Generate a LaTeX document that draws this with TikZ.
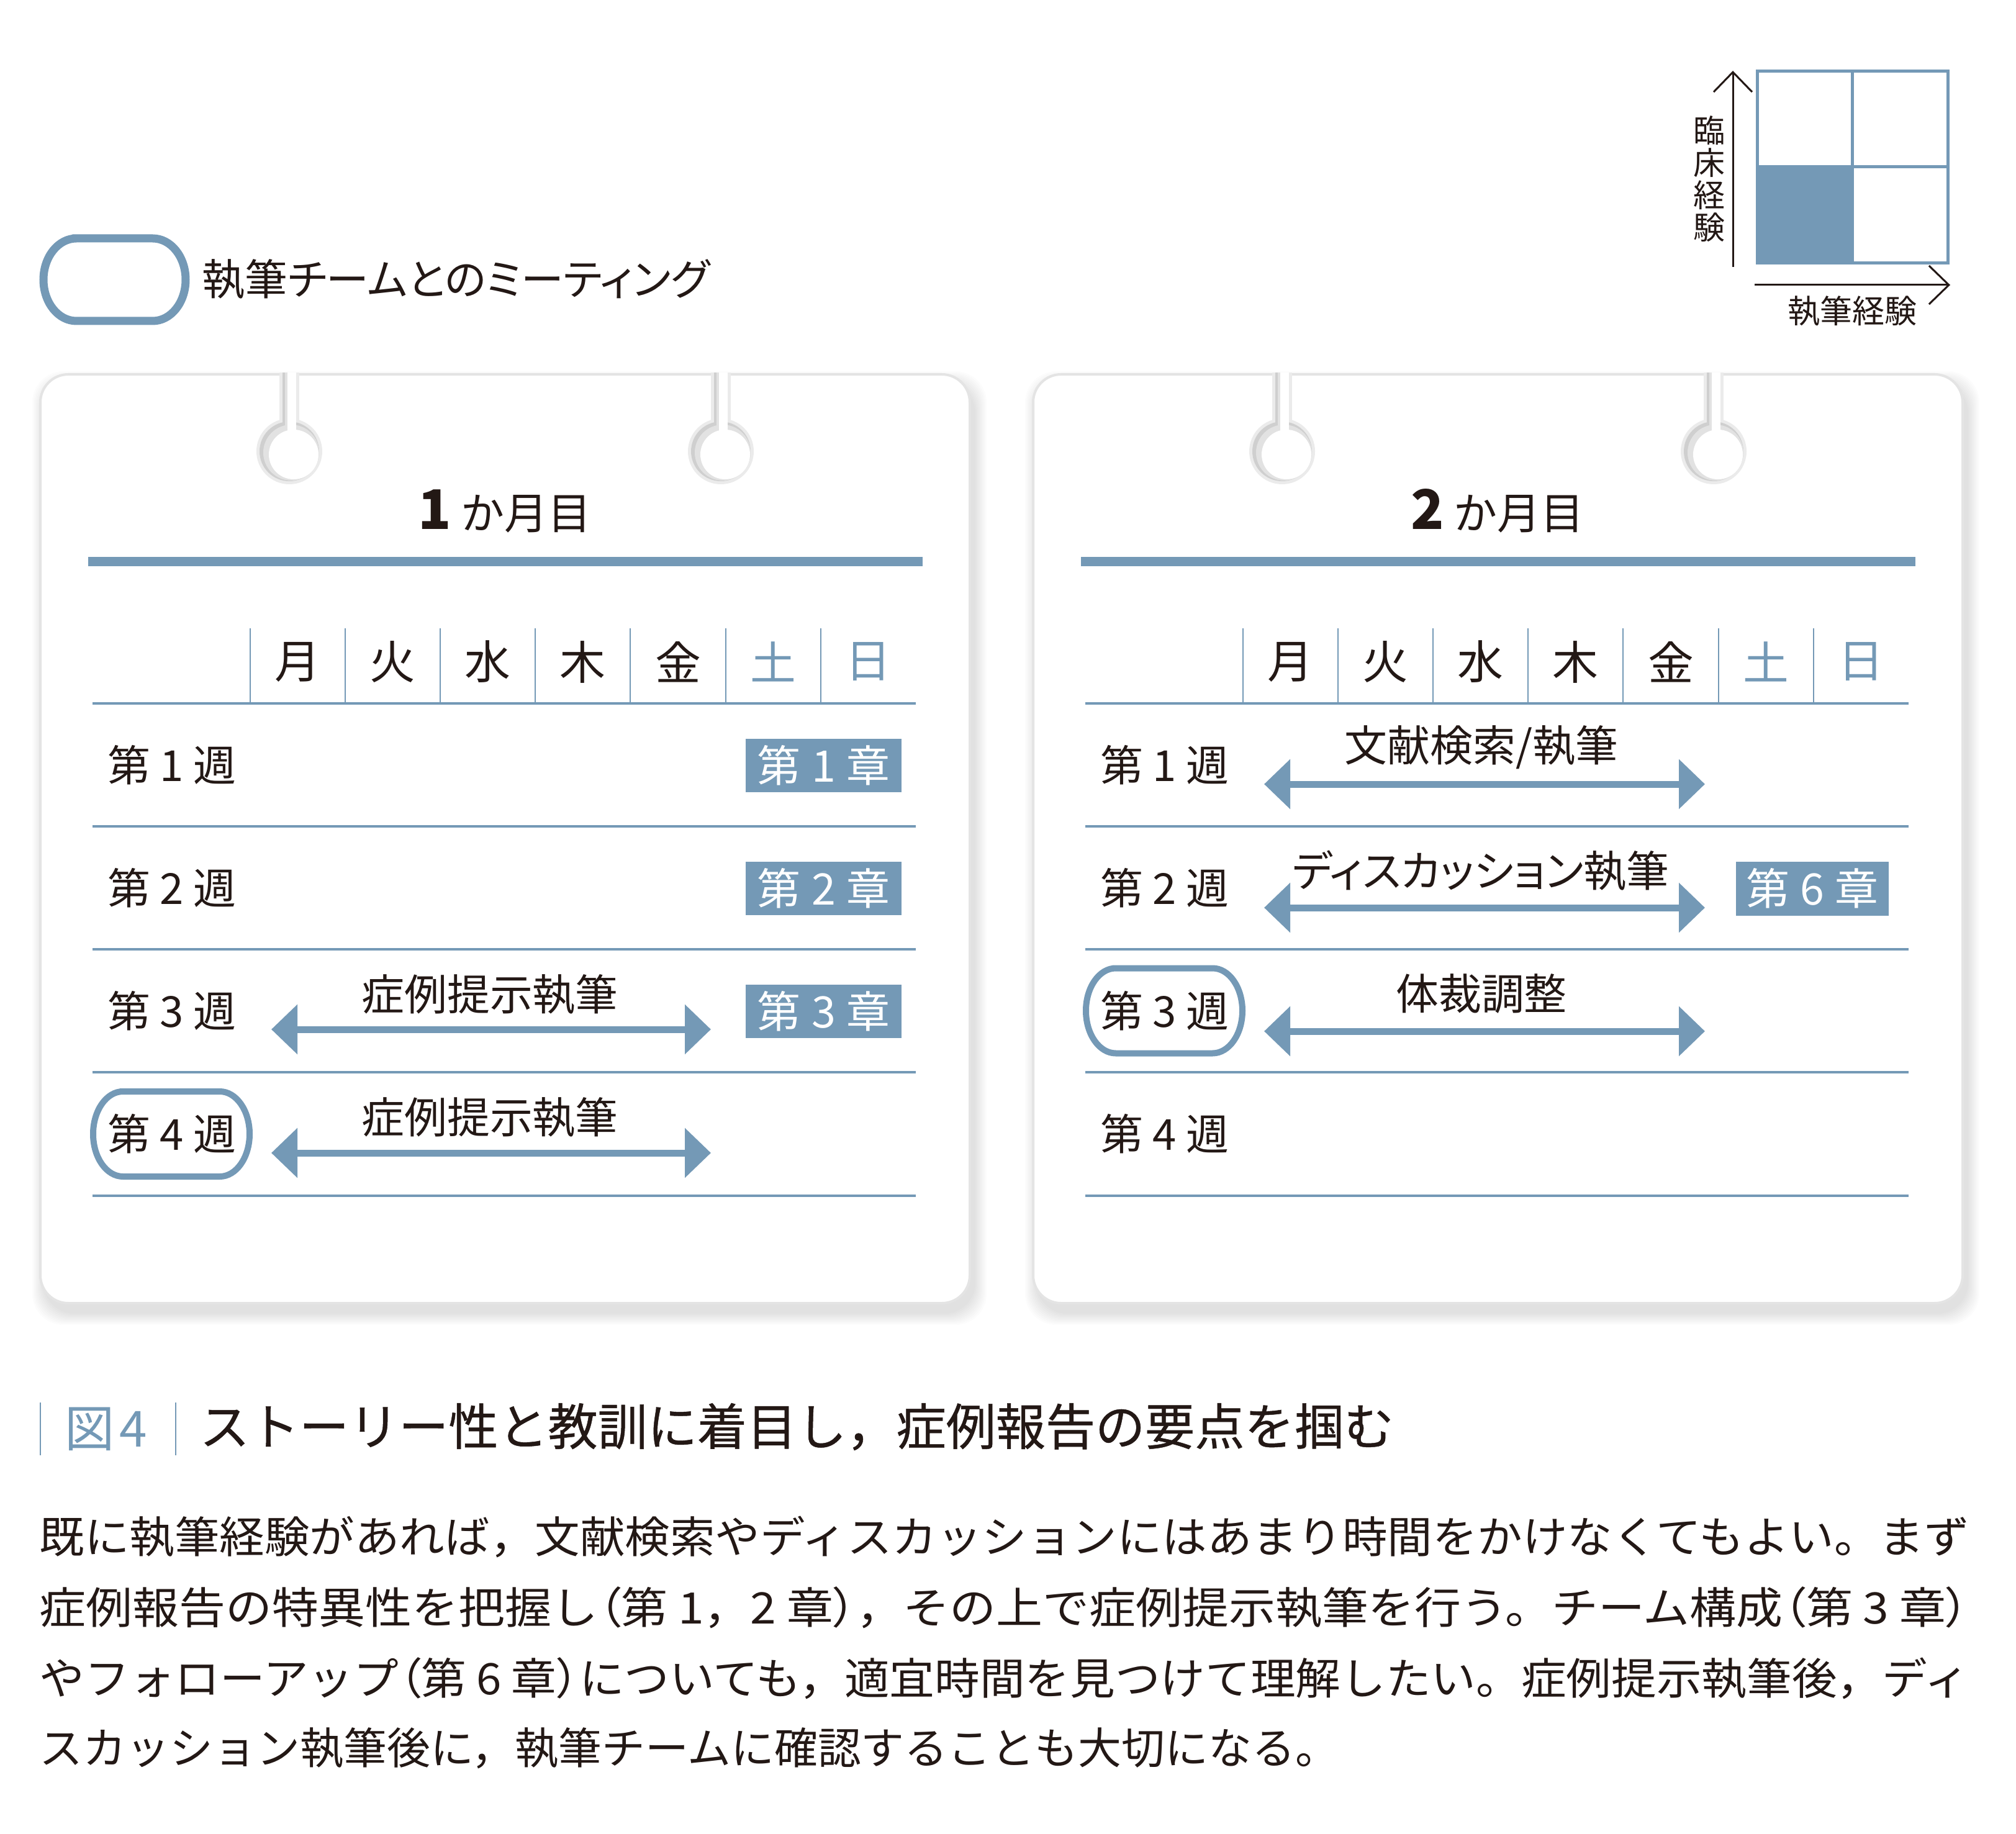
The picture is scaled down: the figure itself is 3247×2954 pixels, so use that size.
\documentclass[tikz,border=0pt]{standalone}
\usepackage{graphicx}
\usepackage{fontspec}
\setmainfont{Noto Sans CJK JP}
\newfontfamily\pfont{Noto Sans CJK JP}[RawFeature=+palt]
\newfontfamily\capfont{Noto Sans CJK JP}[FakeBold=0.6]
\usetikzlibrary{arrows.meta}
\definecolor{blu}{HTML}{7499B6}
\definecolor{ink}{HTML}{231815}
\definecolor{cardedge}{HTML}{E4E4E4}
\definecolor{holeedge}{HTML}{EBEBEB}
\definecolor{holedark}{HTML}{CFCFCF}
\definecolor{holemid}{HTML}{E2E2E2}
\newcommand\po[1]{{\pfont #1}}
% stadium: cx cy halfwidth halfheight xradius style
\newcommand\stadium[6]{%
  \draw[#6] ({#1-#3+#5},{#2-#4}) -- ({#1+#3-#5},{#2-#4})
    arc[start angle=-90,end angle=90,x radius=#5,y radius=#4]
    -- ({#1-#3+#5},{#2+#4})
    arc[start angle=90,end angle=270,x radius=#5,y radius=#4] -- cycle;}
\tikzset{
  txt/.style={inner sep=0pt, text=ink},
  wk/.style={txt, font=\fontsize{19.6pt}{20pt}\selectfont},
  dayl/.style={txt, font=\fontsize{21pt}{22pt}\selectfont},
  arl/.style={txt, font=\fontsize{19.6pt}{20pt}\selectfont},
  chap/.style={fill=blu, text=white, inner sep=0pt, minimum width=25.1mm,
    minimum height=8.6mm, font=\fontsize{19.9pt}{20pt}\selectfont},
  dbl/.style={draw=blu, line width=1.1mm,
    {Triangle[length=4.2mm,width=7.8mm]}-{Triangle[length=4.2mm,width=7.8mm]}},
  sep/.style={draw=blu, line width=0.2mm},
  meet/.style={draw=blu, line width=1.0mm},
  legmeet/.style={draw=blu, line width=1.3mm},
  axis/.style={draw=ink, line width=0.3mm, -{Straight Barb[length=3.2mm,width=6.2mm]}},
  body/.style={txt, anchor=west, font=\fontsize{19.9pt}{20pt}\selectfont},
}
\begin{document}
\begin{tikzpicture}[x=0.1mm,y=-0.1mm]
\useasboundingbox (0,0) rectangle (3247,2954);
\fill[white] (0,0) rectangle (3247,2954);

% ---------- legend ----------
\stadium{184.5}{450.5}{114.5}{66.5}{53}{legmeet}
\node[txt, anchor=west, font=\pfont\fontsize{19.6pt}{20pt}\selectfont] (legtext) at (325,450) {執筆チームとのミーティング};

% ---------- top-right quadrant ----------
\fill[blu] (2830.5,268.5) rectangle (2983.5,423.5);
\draw[blu, line width=0.5mm] (2830.5,114.5) rectangle (3137.5,423.5);
\draw[blu, line width=0.5mm] (2983.5,114.5) -- (2983.5,423.5);
\draw[blu, line width=0.5mm] (2830.5,268.5) -- (3137.5,268.5);
\coordinate (yax0) at (2791,430);
\coordinate (yax1) at (2791,114);
\coordinate (xax0) at (2826,459);
\coordinate (xax1) at (3141,459);
\draw[axis] (yax0) -- (yax1);
\draw[axis] (xax0) -- (xax1);
\node[txt, align=center, font=\fontsize{14.5pt}{14.8pt}\selectfont] (ylab) at (2753,288) {臨\\床\\経\\験};
\node[txt, font=\fontsize{14.8pt}{15pt}\selectfont] (xlab) at (2983,501) {執筆経験};

% ---------- calendar cards ----------
\foreach \o/\m in {0/1,1599/2}{
  % soft shadow
  \foreach \i in {1,...,10}{
    \fill[black, opacity=0.013, rounded corners=5mm]
      ({65+\o+7-2*\i},{603+15-2*\i}) rectangle ({1562+\o+7+2*\i},{2099+15+2*\i});
  }
  \fill[white, rounded corners=4.5mm] ({65+\o},603) rectangle ({1562+\o},2099);
  \draw[cardedge, line width=0.4mm, rounded corners=4.5mm] ({65+\o},603) rectangle ({1562+\o},2099);
  % ring holes
  \foreach \h in {466,1161}{
    \fill[holeedge] ({\h+\o-16},600) rectangle ({\h+\o+16},727);
    \fill[holeedge] ({\h+\o},727) circle (53);
    \fill[holedark] ({\h+\o-11},600) rectangle ({\h+\o+11},727);
    \fill[holedark] ({\h+\o},727) circle (48);
    \fill[holemid] ({\h+\o-7},600) rectangle ({\h+\o+11},727);
    \fill[holemid] ({\h+\o+3},729) circle (45);
    \fill[white] ({\h+\o-3},600) rectangle ({\h+\o+11},727);
    \fill[white] ({\h+\o+7},732) circle (40);
  }
  % title
  \node[txt, anchor=base, font=\fontsize{19.9pt}{20pt}\selectfont] (title\m) at ({813+\o},853)
    {{\fontsize{25pt}{25pt}\selectfont\bfseries \m}\hspace{0.22em}か月目};
  \fill[blu] ({142+\o},897) rectangle ({1486+\o},912);
  % header
  \foreach \k in {0,...,6}{
    \draw[sep] ({403+\o+153.1*\k},1012) -- ({403+\o+153.1*\k},1133);
  }
  \foreach \k/\d/\c in {0/月/ink,1/火/ink,2/水/ink,3/木/ink,4/金/ink,5/土/blu,6/日/blu}{
    \node[dayl, text=\c] (day\m\k) at ({479.5+\o+153.1*\k},1066) {\d};
  }
  \foreach \yy in {1131,1329,1527,1725,1924}{
    \fill[blu] ({149+\o},\yy) rectangle ({1475+\o},{\yy+4});
  }
  \foreach \r/\y in {1/1232,2/1430,3/1628,4/1826}{
    \node[wk] (wk\m\r) at ({277+\o},\y) {第\hspace{0.22em}\r\hspace{0.22em}週};
  }
}

% ---------- card 1 content ----------
\stadium{276}{1826.5}{126}{68.5}{48}{meet}
\node[chap] (ch1) at (1326.5,1233) {第\hspace{0.25em}1\hspace{0.25em}章};
\node[chap] (ch2) at (1326.5,1431) {第\hspace{0.25em}2\hspace{0.25em}章};
\node[chap] (ch3) at (1326.5,1629) {第\hspace{0.25em}3\hspace{0.25em}章};
\coordinate (a13L) at (437,1658);
\coordinate (a13R) at (1145,1658);
\coordinate (a14L) at (437,1857);
\coordinate (a14R) at (1145,1857);
\draw[dbl] (a13L) -- (a13R);
\draw[dbl] (a14L) -- (a14R);
\node[arl] (l13) at (789,1602) {症例提示執筆};
\node[arl] (l14) at (789,1800) {症例提示執筆};

% ---------- card 2 content ----------
\stadium{1875}{1628}{126}{68.5}{48}{meet}
\node[chap, minimum width=24.6mm, minimum height=8.7mm] (ch6) at (2919,1431) {第\hspace{0.25em}6\hspace{0.25em}章};
\coordinate (a21L) at (2036,1263);
\coordinate (a21R) at (2746,1263);
\coordinate (a22L) at (2036,1462);
\coordinate (a22R) at (2746,1462);
\coordinate (a23L) at (2036,1661);
\coordinate (a23R) at (2746,1661);
\draw[dbl] (a21L) -- (a21R);
\draw[dbl] (a22L) -- (a22R);
\draw[dbl] (a23L) -- (a23R);
\node[arl] (l21) at (2386,1204) {文献検索/執筆};
\node[arl, font=\pfont\fontsize{19.6pt}{20pt}\selectfont] (l22) at (2385,1402) {ディスカッション執筆};
\node[arl] (l23) at (2386,1601) {体裁調整};

% ---------- caption ----------
\draw[blu, line width=0.2mm] (65,2259) -- (65,2344);
\draw[blu, line width=0.2mm] (283,2259) -- (283,2344);
\node[txt, anchor=west, text=blu, font=\fontsize{22.8pt}{23pt}\selectfont] (fig) at (104,2302) {図\hspace{0.1em}4};
\node[txt, anchor=west, font=\capfont\fontsize{22.8pt}{23pt}\selectfont] (captitle) at (321,2298) {ストーリー性と教訓に着目し，症例報告の要点を掴む};

% ---------- body text ----------
\node[body] (b1) at (63,2475) {\resizebox{310.8mm}{\height}{既に執筆経験があれば，文献検索やディスカッションにはあまり時間をかけなくてもよい。まず}};
\node[body] (b2) at (63,2589) {\resizebox{310.8mm}{\height}{症例報告の特異性を把握し\po{（}第 1，2 章\po{）}，その上で症例提示執筆を行う。チーム構成\po{（}第 3 章\po{）}}};
\node[body] (b3) at (63,2703) {\resizebox{310.8mm}{\height}{やフォローアップ\po{（}第 6 章\po{）}についても，適宜時間を見つけて理解したい。症例提示執筆後，ディ}};
\node[body] (b4) at (63,2816) {スカッション執筆後に，執筆チームに確認することも大切になる。};
\end{tikzpicture}
\end{document}
